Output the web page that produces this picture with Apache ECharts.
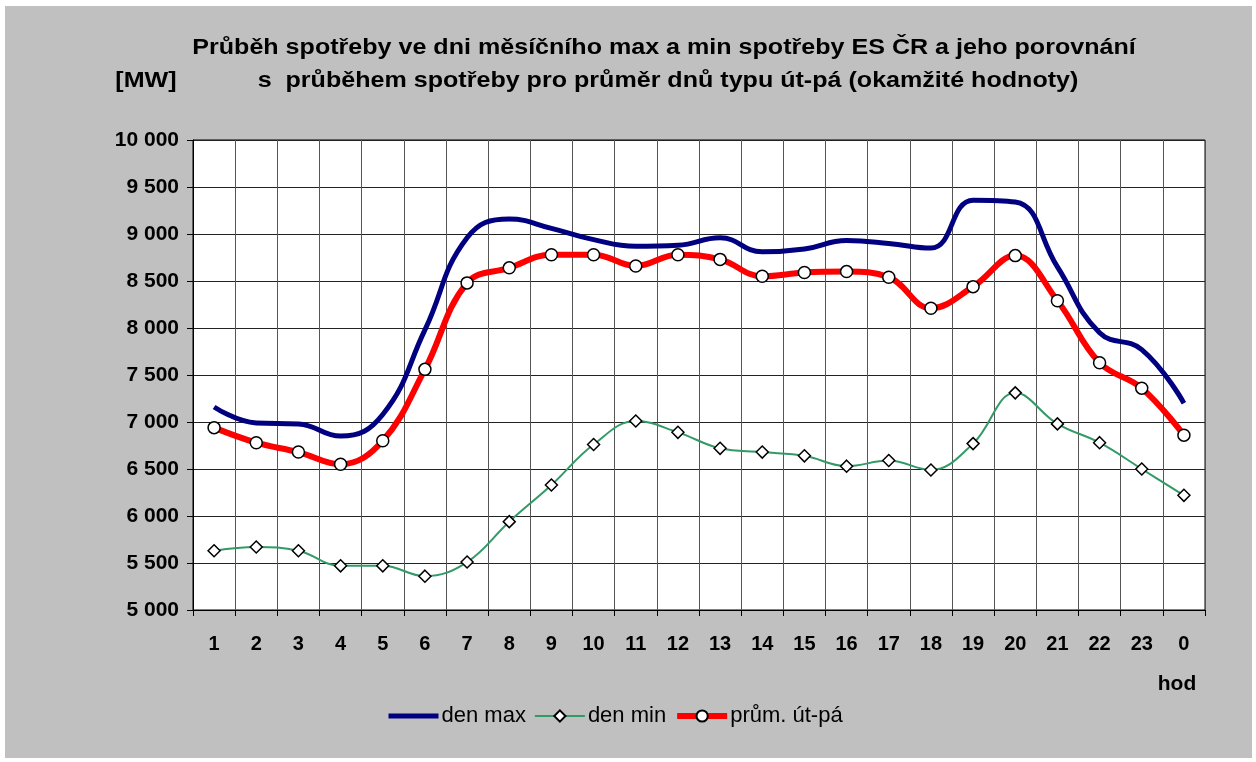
<!DOCTYPE html>
<html>
<head>
<meta charset="utf-8">
<script src="https://cdn.jsdelivr.net/npm/echarts@6/dist/echarts.min.js"></script>
<style>
  html, body { margin: 0; padding: 0; background: #fff; }
  #frame { position: absolute; left: 5px; top: 6px; width: 1247px; height: 752px; background: #c0c0c0; }
  #chart { position: absolute; left: 0; top: 0; width: 1256px; height: 762px; }
</style>
</head>
<body>
<div id="frame"></div>
<div id="chart"></div>
<script>
// hodiny
const hours = ['1', '2', '3', '4', '5', '6', '7', '8', '9', '10', '11', '12',
  '13', '14', '15', '16', '17', '18', '19', '20', '21', '22', '23', '0'];

// [MW]
const denMax = [7160, 6990, 6980, 6850, 7080, 7980, 8960, 9160, 9060, 8940, 8870, 8880,
  8960, 8810, 8840, 8930, 8900, 8850, 9360, 9340, 8650, 7950, 7770, 7200];
const denMin = [5630, 5670, 5630, 5470, 5470, 5360, 5510, 5940, 6330, 6760, 7010, 6890,
  6720, 6680, 6640, 6530, 6590, 6490, 6770, 7310, 6980, 6780, 6500, 6220];
const prumUtPa = [6940, 6780, 6680, 6550, 6800, 7560, 8480, 8640, 8780, 8780, 8660, 8780,
  8730, 8550, 8590, 8600, 8540, 8210, 8440, 8770, 8290, 7630, 7360, 6860];

const font = 'Liberation Sans, Arial, sans-serif';
const fmt = v => String(v).replace(/\B(?=(\d{3})+(?!\d))/g, ' ');

const chart = echarts.init(document.getElementById('chart'));
chart.setOption({
  animation: false,
  textStyle: { fontFamily: font },
  graphic: [
    { type: 'text', x: 664, y: 37, scaleX: 1.14, style: { text: 'Průběh spotřeby ve dni měsíčního max a min spotřeby ES ČR a jeho porovnání', font: 'bold 22px ' + font, fill: '#000', textAlign: 'center' } },
    { type: 'text', x: 668, y: 70, scaleX: 1.14, style: { text: 's  průběhem spotřeby pro průměr dnů typu út-pá (okamžité hodnoty)', font: 'bold 22px ' + font, fill: '#000', textAlign: 'center' } },
    { type: 'text', x: 146, y: 70, scaleX: 1.14, style: { text: '[MW]', font: 'bold 22px ' + font, fill: '#000', textAlign: 'center' } },
    { type: 'text', x: 1177, y: 674, style: { text: 'hod', font: 'bold 21px ' + font, fill: '#000', textAlign: 'center' } }
  ],
  legend: {
    left: 381, top: 700,
    itemWidth: 50, itemHeight: 14, itemGap: 8,
    textStyle: { fontSize: 22, color: '#000', fontFamily: font, padding: [0, 0, 0, -2] },
    data: [
      { name: 'den max', itemStyle: { opacity: 0 }, lineStyle: { width: 5, color: '#000080' } },
      { name: 'den min', lineStyle: { width: 2, color: '#339966' } },
      { name: 'prům. út-pá', lineStyle: { width: 6, color: '#ff0000' } }
    ]
  },
  grid: { left: 193, right: 51, top: 140, bottom: 152, show: true, backgroundColor: '#fff', borderColor: '#000', borderWidth: 1 },
  xAxis: {
    type: 'category',
    data: hours,
    boundaryGap: true,
    axisLine: { lineStyle: { color: '#000', width: 1 } },
    axisTick: { show: true, interval: 0, length: 6, lineStyle: { color: '#000' } },
    axisLabel: { interval: 0, margin: 24, fontSize: 20, fontWeight: 'bold', color: '#000', fontFamily: font },
    splitLine: { show: true, interval: 0, lineStyle: { color: '#555', width: 1 } }
  },
  yAxis: {
    type: 'value',
    min: 5000, max: 10000, interval: 500,
    axisLine: { show: true, lineStyle: { color: '#000', width: 1 } },
    axisTick: { show: true, length: 6, lineStyle: { color: '#000' } },
    axisLabel: { margin: 14, fontSize: 21, fontWeight: 'bold', color: '#000', fontFamily: font, formatter: fmt },
    splitLine: { show: true, lineStyle: { color: '#222', width: 1 } }
  },
  series: [
    {
      name: 'den max', type: 'line', data: denMax, smooth: 0.45,
      symbol: 'none', showSymbol: false,
      lineStyle: { color: '#000080', width: 5 },
      itemStyle: { color: '#000080' },
      z: 3
    },
    {
      name: 'den min', type: 'line', data: denMin, smooth: 0.4,
      symbol: 'diamond', symbolSize: 12,
      lineStyle: { color: '#339966', width: 2 },
      itemStyle: { color: '#fff', borderColor: '#000', borderWidth: 1.5 },
      z: 2
    },
    {
      name: 'prům. út-pá', type: 'line', data: prumUtPa, smooth: 0.4,
      symbol: 'circle', symbolSize: 12,
      lineStyle: { color: '#ff0000', width: 6 },
      itemStyle: { color: '#fff', borderColor: '#000', borderWidth: 1.5 },
      z: 4
    }
  ]
});
</script>
</body>
</html>
